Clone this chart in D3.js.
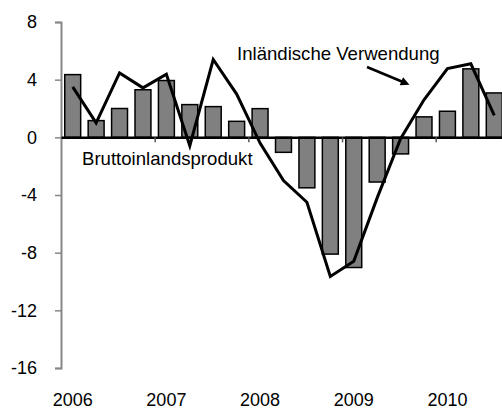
<!DOCTYPE html>
<html lang="de">
    <head>
        <meta charset="utf-8">
        <title>BIP und Inländische Verwendung</title>
        <script type="text/javascript" src="https://cdn.jsdelivr.net/npm/d3@7"></script>
        <style type="text/css">
            body { margin: 0; background: #fff; }
            svg text { font-family: Arial, "Liberation Sans", sans-serif; }
        </style>
    </head>
    <body>
        <script type="text/javascript">

        //Width and height
          var w = 502;
          var h = 410;

          //Quarters (the last one is empty, it only fills the axis)
          var quarters = ["2006Q1", "2006Q2", "2006Q3", "2006Q4",
                          "2007Q1", "2007Q2", "2007Q3", "2007Q4",
                          "2008Q1", "2008Q2", "2008Q3", "2008Q4",
                          "2009Q1", "2009Q2", "2009Q3", "2009Q4",
                          "2010Q1", "2010Q2", "2010Q3", "2010Q4"];

          //Year labels
          var years = ["2006", "2007", "2008", "2009", "2010"];

          //Bruttoinlandsprodukt (bars)
          var gdp = [4.35, 1.16, 2.0, 3.3, 3.94, 2.27, 2.13, 1.11, 1.99, -1.04,
                     -3.5, -8.1, -9.03, -3.1, -1.15, 1.42, 1.81, 4.75, 3.08];

          //Inländische Verwendung (line)
          var domestic = [3.5, 1.0, 4.47, 3.43, 4.38, -0.58, 5.4, 3.0, -0.4, -3.0,
                          -4.5, -9.65, -8.6, -4.2, -0.1, 2.6, 4.77, 5.1, 1.53];

          //Y ticks
          var yTicks = [-16, -12, -8, -4, 0, 4, 8];

          var x = d3.scaleBand()
                    .domain(quarters)
                    .range([61, 61 + 20 * 23.42])
                    .paddingInner(0.32)
                    .paddingOuter(0.16);

          var y = d3.scaleLinear()
                    .domain([-16, 8])
                    .range([368, 22]);

          var svg = d3.select("body")
                      .append("svg")
                      .attr("width", w)
                      .attr("height", h);

          //Y axis
          var yAxis = svg.append("g")
                         .attr("transform", "translate(61,0)")
                         .call(d3.axisLeft(y).tickValues(yTicks).tickSize(6).tickPadding(18)
                               .tickFormat(d3.format("d")));
          yAxis.select(".domain").attr("stroke", "#878787").attr("stroke-width", 2);
          yAxis.selectAll(".tick line").attr("stroke", "#878787").attr("stroke-width", 1.5);
          yAxis.selectAll(".tick text")
               .attr("font-size", "18px")
               .attr("fill", "#000")
               .style("font-family", "Arial, 'Liberation Sans', sans-serif")
               .text(function(d) { return d < 0 ? "-" + Math.abs(d) : d; });

          //Bars
          svg.selectAll("rect.bar")
             .data(gdp)
             .enter()
             .append("rect")
             .attr("class", "bar")
             .attr("x", function(d, i) { return x(quarters[i]); })
             .attr("y", function(d) { return y(Math.max(0, d)); })
             .attr("width", x.bandwidth())
             .attr("height", function(d) { return Math.abs(y(d) - y(0)); })
             .attr("fill", "#808080")
             .attr("stroke", "#000")
             .attr("stroke-width", 1.5);

          //Zero line with year boundary ticks
          var xYear = d3.scaleLinear()
                        .domain([2006, 2011])
                        .range(x.range());
          var xAxis = svg.append("g")
                         .attr("transform", "translate(0," + y(0) + ")")
                         .call(d3.axisBottom(xYear).tickValues([2007, 2008, 2009, 2010])
                               .tickSize(5).tickSizeOuter(0).tickFormat(""));
          xAxis.select(".domain").attr("stroke", "#000").attr("stroke-width", 2.5);
          xAxis.selectAll(".tick line").attr("stroke", "#555").attr("stroke-width", 1.5);

          //Year labels, under the first quarter of each year
          svg.selectAll("text.year")
             .data(years)
             .enter()
             .append("text")
             .attr("class", "year")
             .attr("x", function(d) { return x(d + "Q1") + x.bandwidth() / 2; })
             .attr("y", 406)
             .attr("text-anchor", "middle")
             .attr("font-size", "18px")
             .text(function(d) { return d; });

          //Line
          var line = d3.line()
                       .x(function(d, i) { return x(quarters[i]) + x.bandwidth() / 2; })
                       .y(function(d) { return y(d); });

          svg.append("path")
             .datum(domestic)
             .attr("d", line)
             .attr("fill", "none")
             .attr("stroke", "#000")
             .attr("stroke-width", 3);

          //Labels
          svg.append("text")
             .attr("x", 82)
             .attr("y", 165)
             .attr("font-size", "18.6px")
             .text("Bruttoinlandsprodukt");

          svg.append("text")
             .attr("x", 237)
             .attr("y", 59.5)
             .attr("font-size", "18.6px")
             .text("Inländische Verwendung");

          //Arrow
          svg.append("defs")
             .append("marker")
             .attr("id", "head")
             .attr("viewBox", "0 0 10 10")
             .attr("refX", 2)
             .attr("refY", 5)
             .attr("markerWidth", 4)
             .attr("markerHeight", 3.5)
             .attr("markerUnits", "strokeWidth")
             .attr("orient", "auto")
             .append("path")
             .attr("d", "M0,0L10,5L0,10z")
             .attr("fill", "#000");

          svg.append("line")
             .attr("x1", 367)
             .attr("y1", 67)
             .attr("x2", 403)
             .attr("y2", 82)
             .attr("stroke", "#000")
             .attr("stroke-width", 2.5)
             .attr("marker-end", "url(#head)");

        </script>
    </body>
</html>
